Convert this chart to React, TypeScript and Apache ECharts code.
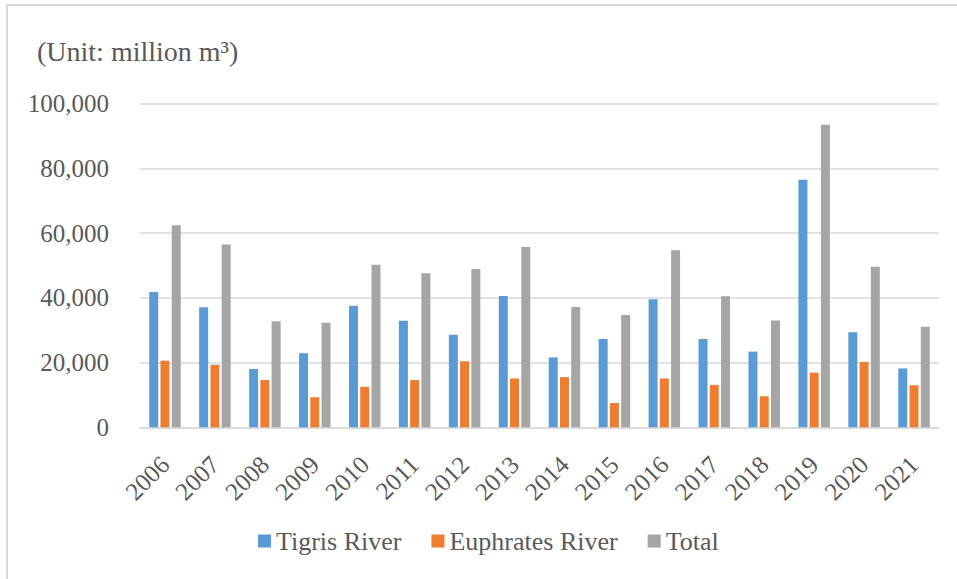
import React, { useEffect, useRef } from "react";
import * as echarts from "echarts";

const years = ["2006", "2007", "2008", "2009", "2010", "2011", "2012", "2013", "2014", "2015", "2016", "2017", "2018", "2019", "2020", "2021"];
const tigris = [41800, 37100, 18000, 22900, 37600, 32900, 28600, 40600, 21600, 27300, 39600, 27300, 23400, 76500, 29400, 18200];
const euphrates = [20600, 19300, 14600, 9300, 12500, 14600, 20400, 15100, 15500, 7500, 15100, 13100, 9600, 16900, 20200, 13000];
const total = [62400, 56500, 32800, 32300, 50200, 47600, 48900, 55700, 37200, 34700, 54700, 40500, 33000, 93500, 49600, 31100];
const seriesNames = ["Tigris River", "Euphrates River", "Total"];
const seriesColors = ["#5B9BD5", "#ED7D31", "#A5A5A5"];
const unitLabel = "(Unit: million m³)";

const FONT = "'Liberation Serif', serif";
const TEXT = "#595959";

export default function App() {
  const ref = useRef<HTMLDivElement>(null);
  useEffect(() => {
    if (!ref.current) return;
    const chart = echarts.init(ref.current, null, { renderer: "svg" });
    const seriesData = [tigris, euphrates, total];
    chart.setOption({
      animation: false,
      backgroundColor: "#ffffff",
      textStyle: { fontFamily: FONT },
      graphic: [
        {
          type: "rect",
          shape: { x: 7, y: 5, width: 980, height: 600 },
          style: { fill: "none", stroke: "#d9d9d9", lineWidth: 2 },
          silent: true,
        },
        {
          type: "text",
          x: 37,
          y: 51,
          style: {
            text: unitLabel,
            fontFamily: FONT,
            fontSize: 28,
            fill: TEXT,
            verticalAlign: "middle",
            align: "left",
          },
        },
      ],
      legend: {
        data: seriesNames,
        left: 253,
        top: 523,
        itemWidth: 13,
        itemHeight: 13,
        itemGap: 30,
        icon: "rect",
        textStyle: { fontFamily: FONT, fontSize: 26, color: TEXT },
      },
      grid: { left: 140, right: 18, top: 103.7, bottom: 151.7, containLabel: false },
      xAxis: {
        type: "category",
        data: years,
        axisLine: { lineStyle: { color: "#d9d9d9", width: 1.5 } },
        axisTick: { show: false },
        axisLabel: {
          rotate: 45,
          margin: 33,
          fontFamily: FONT,
          fontSize: 25,
          color: TEXT,
          interval: 0,
        },
      },
      yAxis: {
        type: "value",
        min: 0,
        max: 100000,
        interval: 20000,
        axisLine: { show: false },
        axisTick: { show: false },
        splitLine: { lineStyle: { color: "#d9d9d9", width: 1.5 } },
        axisLabel: {
          margin: 31,
          fontFamily: FONT,
          fontSize: 25,
          color: TEXT,
          formatter: (v: number) => v.toLocaleString("en-US"),
        },
      },
      series: seriesNames.map((n, i) => ({
        name: n,
        type: "bar",
        data: seriesData[i],
        barWidth: 9,
        barGap: "25%",
        itemStyle: { color: seriesColors[i] },
      })),
    });
    return () => chart.dispose();
  }, []);
  return (
    <div
      ref={ref}
      style={{ position: "fixed", left: 0, top: 0, width: 957, height: 579 }}
    />
  );
}
